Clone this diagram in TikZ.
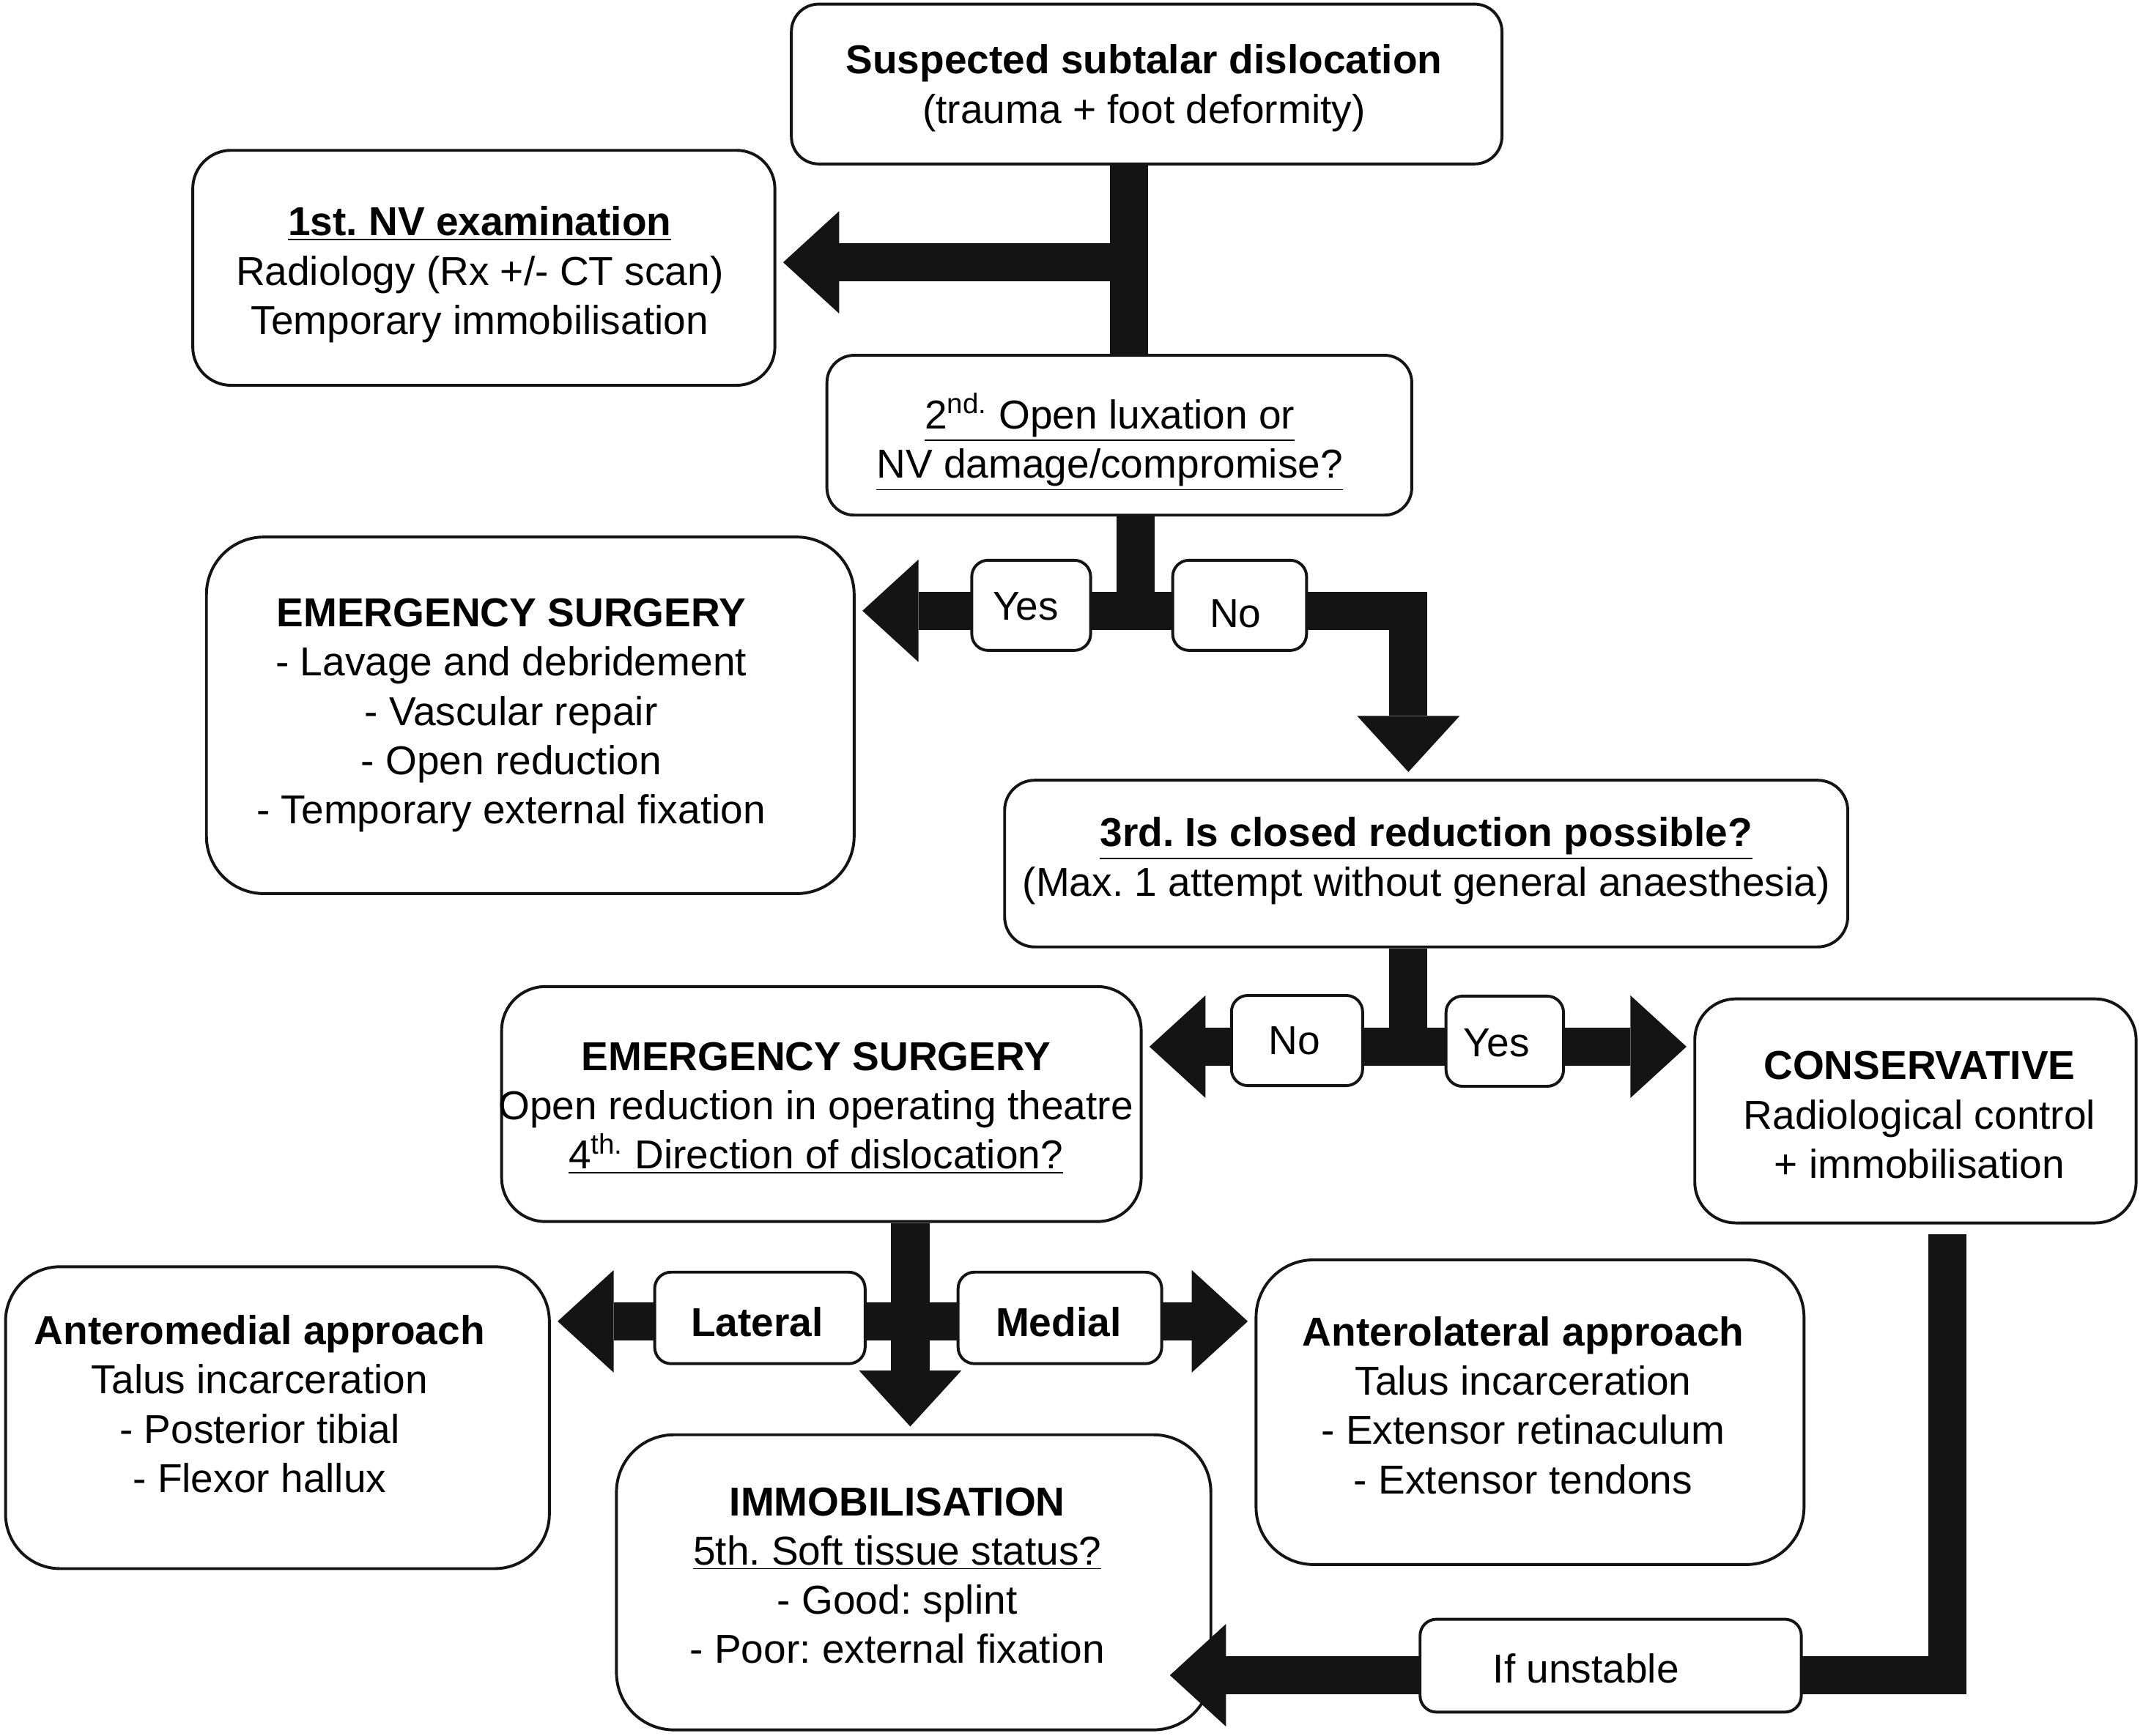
\documentclass[tikz,border=0pt]{standalone}
\usepackage{fontspec}
\setmainfont{Liberation Sans}
\usetikzlibrary{arrows.meta}
\frenchspacing
\definecolor{barblack}{HTML}{141414}
\tikzset{
    box/.style={draw=barblack,line width=1.2pt,fill=white,rounded corners=#1,inner sep=0pt},
    box/.default=0.4cm,
    txt/.style={align=center,inner sep=0pt,font=\fontsize{16.8}{20.5}\selectfont},
    tag/.style={box=0.24cm},
    bar/.style={draw=barblack,line width=0.56cm},
    bigarrow/.style={bar,-{Triangle[width=1.5cm,length=0.82cm,line width=0pt]},shorten >=0.1cm},
}
\begin{document}
\begin{tikzpicture}[x=0.02cm,y=-0.02cm]
        \useasboundingbox(0,0)rectangle(1568,1270);
        % 绘制方框
        \node[box,minimum width=10.4cm,minimum height=2.34cm,
            label={[txt,shift={(-2,3)}]center:{\textbf{Suspected subtalar dislocation}\\(trauma + foot deformity)}}](susp)at(839,61.5){};
        \node[box=0.56cm,minimum width=8.52cm,minimum height=3.44cm,
            label={[txt,shift={(-3,5)}]center:{\underline{\textbf{1st. NV examination}}\\Radiology (Rx +/- CT scan)\\Temporary immobilisation}}](exam)at(354,196){};
        \node[box,minimum width=8.56cm,minimum height=2.34cm,
            label={[txt,shift={(-7,5)}]center:{\underline{2\textsuperscript{nd.} Open luxation or}\\\underline{NV damage/compromise?}}}](open)at(819,318.5){};
        \node[box=0.84cm,minimum width=9.48cm,minimum height=5.22cm,
            label={[txt,shift={(-14,0)}]center:{\textbf{EMERGENCY SURGERY}\\- Lavage and debridement\\- Vascular repair\\- Open reduction\\- Temporary external fixation}}](surg1)at(388,523.5){};
        \node[box=0.44cm,minimum width=12.34cm,minimum height=2.44cm,
            label={[txt,shift={(0,-2)}]center:{\underline{\textbf{3rd. Is closed reduction possible?}}\\(Max. 1 attempt without general anaesthesia)}}](closed)at(1043.5,632){};
        \node[box=0.64cm,minimum width=9.36cm,minimum height=3.44cm,
            label={[txt,shift={(-4,3)}]center:{\textbf{EMERGENCY SURGERY}\\Open reduction in operating theatre\\\underline{4\textsuperscript{th.} Direction of dislocation?}}}](surg2)at(601,808){};
        \node[box=0.6cm,minimum width=6.46cm,minimum height=3.28cm,
            label={[txt,shift={(3,3)}]center:{\textbf{CONSERVATIVE}\\Radiological control\\+ immobilisation}}](cons)at(1401.5,813){};
        \node[box=0.8cm,minimum width=7.96cm,minimum height=4.42cm,
            label={[txt,shift={(-13,-10)}]center:{\textbf{Anteromedial approach}\\Talus incarceration\\- Posterior tibial\\- Flexor hallux}}](antmed)at(203,1037.5){};
        \node[box=0.84cm,minimum width=8.02cm,minimum height=4.46cm,
            label={[txt,shift={(-5,-5)}]center:{\textbf{Anterolateral approach}\\Talus incarceration\\- Extensor retinaculum\\- Extensor tendons}}](antlat)at(1119.5,1033.5){};
        \node[box=0.84cm,minimum width=8.7cm,minimum height=4.32cm,
            label={[txt,shift={(-12,-5)}]center:{\textbf{IMMOBILISATION}\\\underline{5th. Soft tissue status?}\\- Good: splint\\- Poor: external fixation}}](immob)at(668.5,1158){};
        % 分支点
        \coordinate(j1)at(826,192);
        \coordinate(j2)at(831,447);
        \coordinate(j3)at(1030.5,766);
        \coordinate(j4)at(666,967);
        \coordinate(top5)at(1425,903);
        \coordinate(tip5)at(851,1226);
        % 绘制粗箭头
        \draw[bar](j1|-susp.south)--(j1|-open.north);
        \draw[bigarrow](j1)--(j1-|exam.east);
        \draw[bar](j2|-open.south)--(j2);
        \draw[bigarrow](j2)--(j2-|surg1.east);
        \draw[bigarrow](j2)-|(j3|-closed.north);
        \draw[bar](j3|-closed.south)--(j3);
        \draw[bigarrow](j3)--(j3-|surg2.east);
        \draw[bigarrow](j3)--(j3-|cons.west);
        \draw[bigarrow](j4|-surg2.south)--(j4|-immob.north);
        \draw[bigarrow](j4)--(j4-|antmed.east);
        \draw[bigarrow](j4)--(j4-|antlat.west);
        \draw[bigarrow](top5)|-(tip5);
        % 添加标签
        \node[tag,minimum width=1.74cm,minimum height=1.32cm,label={[txt,shift={(-4,1)}]center:Yes}](yes1)at(754.5,443){};
        \node[tag,minimum width=1.96cm,minimum height=1.32cm,label={[txt,shift={(-3,6)}]center:No}](no1)at(907,443){};
        \node[tag,minimum width=1.92cm,minimum height=1.32cm,label={[txt,shift={(-2,0)}]center:No}](no2)at(949,761.5){};
        \node[tag,minimum width=1.72cm,minimum height=1.32cm,label={[txt,shift={(-6,1)}]center:Yes}](yes2)at(1101,762){};
        \node[tag,minimum width=3.08cm,minimum height=1.34cm,label={[txt,shift={(-2,3)}]center:\textbf{Lateral}}](lat)at(556,964.5){};
        \node[tag,minimum width=2.98cm,minimum height=1.34cm,label={[txt,shift={(-1,3)}]center:\textbf{Medial}}](med)at(775.5,964.5){};
        \node[tag,minimum width=5.58cm,minimum height=1.36cm,label={[txt,shift={(-18,2)}]center:If unstable}](unst)at(1178.5,1219){};
    \end{tikzpicture}
\end{document}
